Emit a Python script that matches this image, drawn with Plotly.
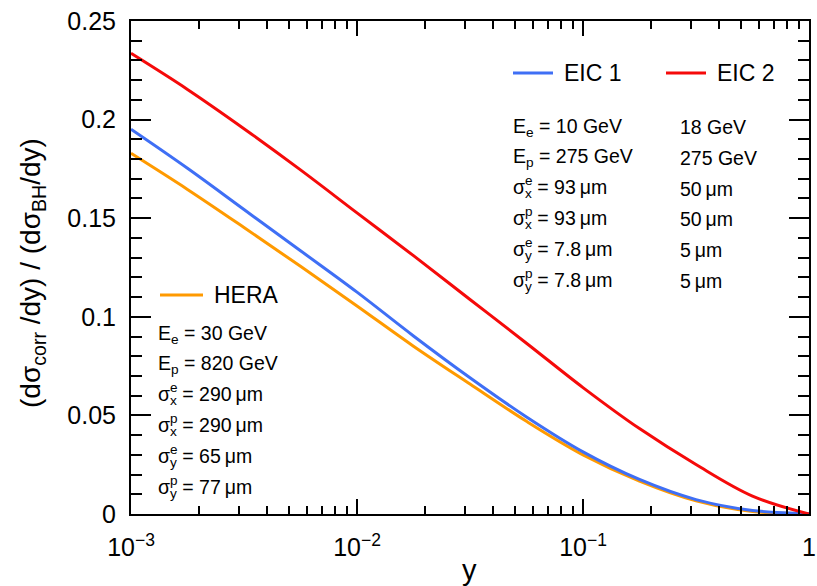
import plotly.graph_objects as go

# ---- data ----
y_vals = [0.001, 0.001778, 0.003162, 0.005623, 0.01, 0.01778, 0.03162,
          0.05623, 0.1, 0.1778, 0.3162, 0.5623, 1.0]
eic1 = [0.1951, 0.1753, 0.1544, 0.1335, 0.1125, 0.0903, 0.0691,
        0.0492, 0.0315, 0.0175, 0.0073, 0.0018, 0.0002]
eic2 = [0.2336, 0.2153, 0.1954, 0.1745, 0.1527, 0.1310, 0.1088,
        0.0866, 0.0641, 0.0433, 0.0251, 0.0091, 0.0000]
hera = [0.1829, 0.1646, 0.1453, 0.1256, 0.1055, 0.0851, 0.0659,
        0.0470, 0.0300, 0.0167, 0.0067, 0.0013, 0.0001]

x_major = [0.001, 0.01, 0.1, 1]
x_major_text = ["10<sup>\u22123</sup>", "10<sup>\u22122</sup>", "10<sup>\u22121</sup>", "1"]
x_minor = [m * d for d in (0.001, 0.01, 0.1) for m in range(2, 10)]
y_major = [0, 0.05, 0.1, 0.15, 0.2, 0.25]
y_major_text = ["0", "0.05", "0.1", "0.15", "0.2", "0.25"]

eic_rows_1 = ["E<sub>e</sub> = 10 GeV", "E<sub>p</sub> = 275 GeV",
              "\u03c3<sub>x</sub> = 93\u2009\u03bcm", "\u03c3<sub>x</sub> = 93\u2009\u03bcm",
              "\u03c3<sub>y</sub> = 7.8\u2009\u03bcm", "\u03c3<sub>y</sub> = 7.8\u2009\u03bcm"]
eic_rows_2 = ["18 GeV", "275 GeV", "50\u2009\u03bcm", "50\u2009\u03bcm", "5\u2009\u03bcm", "5\u2009\u03bcm"]
hera_rows = ["E<sub>e</sub> = 30 GeV", "E<sub>p</sub> = 820 GeV",
             "\u03c3<sub>x</sub> = 290\u2009\u03bcm", "\u03c3<sub>x</sub> = 290\u2009\u03bcm",
             "\u03c3<sub>y</sub> = 65\u2009\u03bcm", "\u03c3<sub>y</sub> = 77\u2009\u03bcm"]
row_sups = [None, None, "e", "p", "e", "p"]

BLUE = "#3f6ff5"
RED = "#f50a0a"
ORANGE = "#ff9a00"
FONT = "Liberation Sans, Arial, sans-serif"

# plot area in pixels
W, H = 817, 586
L, R, T, B = 131, 809, 21, 514
PW, PH = R - L, B - T


def px(x):
    return (x - L) / PW


def py(y):
    return (B - y) / PH


fig = go.Figure()
for name, vals, col in [("HERA", hera, ORANGE), ("EIC 1", eic1, BLUE), ("EIC 2", eic2, RED)]:
    fig.add_trace(go.Scatter(x=y_vals, y=vals, mode="lines", name=name,
                             line=dict(color=col, width=3, shape="spline", smoothing=1.0),
                             showlegend=False, cliponaxis=True))

annotations = []
shapes = []


def legend_item(x0, x1, yc, col, text):
    shapes.append(dict(type="line", xref="paper", yref="paper",
                       x0=px(x0), x1=px(x1), y0=py(yc), y1=py(yc),
                       line=dict(color=col, width=3)))
    annotations.append(dict(xref="paper", yref="paper", x=px(x1 + 9), y=py(yc),
                            text=text, showarrow=False, xanchor="left", yanchor="middle",
                            font=dict(size=23, color="black", family=FONT)))


legend_item(513, 553, 73, BLUE, "EIC 1")
legend_item(666, 706, 73, RED, "EIC 2")
legend_item(160, 203, 295, ORANGE, "HERA")


def rows(x0, y0, texts, sups, dy=30.8, x2=None, texts2=None):
    for i, t in enumerate(texts):
        yc = y0 + i * dy
        annotations.append(dict(xref="paper", yref="paper", x=px(x0), y=py(yc),
                                text=t, showarrow=False, xanchor="left", yanchor="middle",
                                font=dict(size=19.5, color="black", family=FONT)))
        if sups and sups[i]:
            annotations.append(dict(xref="paper", yref="paper", x=px(x0 + 11.5), y=py(yc - 8),
                                    text=sups[i], showarrow=False, xanchor="left", yanchor="middle",
                                    font=dict(size=13.5, color="black", family=FONT)))
        if texts2:
            annotations.append(dict(xref="paper", yref="paper", x=px(x2), y=py(yc),
                                    text=texts2[i], showarrow=False, xanchor="left", yanchor="middle",
                                    font=dict(size=19.5, color="black", family=FONT)))


rows(511, 127, eic_rows_1, row_sups, x2=678, texts2=eic_rows_2)
rows(156, 334, hera_rows, row_sups)

annotations.append(dict(xref="paper", yref="paper", x=px(32), y=py(273),
                        text="(d\u03c3<sub>corr</sub> /dy) / (d\u03c3<sub>BH</sub>/dy)",
                        textangle=-90, showarrow=False, xanchor="center", yanchor="middle",
                        font=dict(size=28, color="black", family=FONT)))
annotations.append(dict(xref="paper", yref="paper", x=px(469), y=py(570),
                        text="y", showarrow=False, xanchor="center", yanchor="middle",
                        font=dict(size=29, color="black", family=FONT)))

fig.update_layout(
    width=W, height=H,
    margin=dict(l=L, r=W - R, t=T, b=H - B, pad=0, autoexpand=False),
    paper_bgcolor="white", plot_bgcolor="white",
    font=dict(family=FONT, size=25, color="black"),
    annotations=annotations, shapes=shapes,
    xaxis=dict(type="log", range=[-3, 0], showgrid=False, zeroline=False,
               showline=True, linecolor="black", linewidth=2, mirror="allticks",
               ticks="inside", ticklen=15, tickwidth=1.5, tickcolor="black",
               tickmode="array", tickvals=x_major, ticktext=x_major_text,
               ticklabelstandoff=10, automargin=False,
               tickfont=dict(size=25, family=FONT, color="black"),
               minor=dict(tickmode="array", tickvals=x_minor, ticks="inside",
                          ticklen=8, tickwidth=1.5, tickcolor="black", showgrid=False)),
    yaxis=dict(range=[0, 0.25], showgrid=False, zeroline=False,
               showline=True, linecolor="black", linewidth=2, mirror="allticks",
               ticks="inside", ticklen=20, tickwidth=1.5, tickcolor="black",
               tickmode="array", tickvals=y_major, ticktext=y_major_text,
               ticklabelstandoff=8, automargin=False,
               tickfont=dict(size=25, family=FONT, color="black"),
               minor=dict(dtick=0.01, tick0=0, ticks="inside", ticklen=11,
                          tickwidth=1.5, tickcolor="black", showgrid=False)),
)

fig.write_html("out.html", config={"displayModeBar": False},
               post_script="document.body.style.margin='0';document.body.style.overflow='hidden';")
